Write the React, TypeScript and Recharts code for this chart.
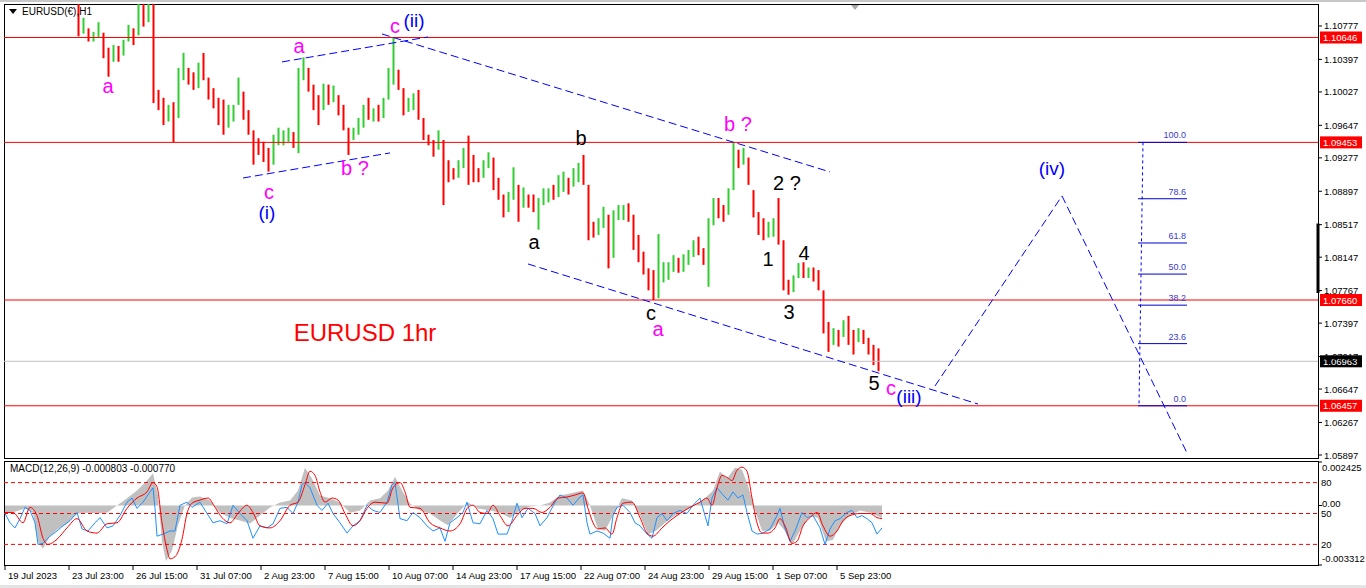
import React from "react";
import {
  Area,
  Bar,
  ComposedChart,
  Line,
  ReferenceDot,
  ReferenceLine,
  XAxis,
  YAxis,
} from "recharts";

const FONT = "'Liberation Sans', Arial, sans-serif";

// hourly bars, read 5 at a time; t = bar index from the left edge of the chart
const candleStart = 74;
const candleStep = 5;
const firstOpen = 1.108;
const candleHigh = [
  1.1107, 1.1087, 1.1075, 1.1071, 1.1082, 1.107, 1.1053, 1.1056, 1.1055, 1.1062,
  1.1079, 1.1075, 1.1104, 1.1105, 1.1107, 1.1105, 1.1005, 1.0996, 1.0988, 1.0991,
  1.103, 1.1047, 1.103, 1.1025, 1.1036, 1.1047, 1.1019, 1.1007, 1.0996, 1.0994,
  1.0988, 1.0988, 1.1019, 1.1003, 1.0982, 1.0959, 1.095, 1.0946, 1.0939, 1.0954,
  1.0962, 1.0959, 1.0962, 1.0957, 1.103, 1.1042, 1.103, 1.1011, 1.0999, 1.1012,
  1.1011, 1.101, 1.0999, 1.0988, 1.0962, 1.0962, 1.0973, 1.0988, 1.0996, 1.0984,
  1.0988, 1.0996, 1.103, 1.1064, 1.1028, 1.1007, 1.0996, 1.1001, 1.1005, 1.0973,
  1.0954, 1.0948, 1.0959, 1.0948, 1.0925, 1.0916, 1.0925, 1.0939, 1.0953, 1.0931,
  1.0916, 1.0925, 1.0934, 1.0928, 1.0905, 1.0886, 1.0889, 1.0917, 1.0897, 1.0894,
  1.0886, 1.0886, 1.0882, 1.0893, 1.0893, 1.0897, 1.0908, 1.0912, 1.0905, 1.0916,
  1.0922, 1.0931, 1.0897, 1.0855, 1.0859, 1.0872, 1.0863, 1.0868, 1.0874, 1.0874,
  1.0876, 1.0863, 1.084, 1.0821, 1.0802, 1.08, 1.0841, 1.0809, 1.0809, 1.0817,
  1.0814, 1.0818, 1.0823, 1.0834, 1.0838, 1.0825, 1.0859, 1.0882, 1.0882, 1.0874,
  1.0893, 1.0945, 1.0937, 1.0939, 1.0928, 1.0891, 1.0866, 1.0859, 1.0855, 1.0859,
  1.0882, 1.0834, 1.0789, 1.0794, 1.0808, 1.0809, 1.0803, 1.0803, 1.08, 1.0777,
  1.0741, 1.0734, 1.0732, 1.0743, 1.0748, 1.0732, 1.0734, 1.0732, 1.0723, 1.0715,
  1.0711,
];
const candleLow = [
  1.1066, 1.1069, 1.106, 1.106, 1.1064, 1.1041, 1.102, 1.1037, 1.1037, 1.1044,
  1.106, 1.1056, 1.1067, 1.1077, 1.1082, 1.099, 1.0982, 1.0965, 1.0969, 1.0945,
  1.0973, 1.1016, 1.1011, 1.1005, 1.1007, 1.1016, 1.0994, 1.0984, 1.0965, 1.0954,
  1.0962, 1.0969, 1.0988, 1.0971, 1.0954, 1.092, 1.0931, 1.0923, 1.0912, 1.092,
  1.0942, 1.0942, 1.0946, 1.0939, 1.0933, 1.1016, 1.1003, 1.0982, 1.0965, 1.0982,
  1.0988, 1.0991, 1.0976, 1.0959, 1.0931, 1.0948, 1.0954, 1.0962, 1.0971, 1.0969,
  1.0969, 1.0973, 1.0994, 1.1011, 1.1005, 1.0976, 1.098, 1.0982, 1.0971, 1.0948,
  1.0942, 1.0929, 1.0937, 1.0874, 1.09, 1.0903, 1.0905, 1.0916, 1.0897, 1.09,
  1.09, 1.0905, 1.0916, 1.0891, 1.088, 1.086, 1.0866, 1.088, 1.0855, 1.0871,
  1.0871, 1.0866, 1.0846, 1.0874, 1.0877, 1.088, 1.0883, 1.0889, 1.0886, 1.0895,
  1.09, 1.0897, 1.0834, 1.0837, 1.084, 1.0848, 1.0802, 1.0814, 1.0857, 1.0857,
  1.0855, 1.0823, 1.0809, 1.0795, 1.0777, 1.0766, 1.0768, 1.0786, 1.0789, 1.0798,
  1.0797, 1.0798, 1.0806, 1.0815, 1.0817, 1.0806, 1.0781, 1.0851, 1.0859, 1.0855,
  1.0863, 1.0891, 1.0916, 1.092, 1.0897, 1.086, 1.084, 1.0834, 1.0837, 1.0838,
  1.0829, 1.0777, 1.0772, 1.0775, 1.0791, 1.0791, 1.0791, 1.0787, 1.0777, 1.0728,
  1.0707, 1.0715, 1.0713, 1.0724, 1.0715, 1.0704, 1.0718, 1.0716, 1.0704, 1.0692,
  1.0685,
];
const candleClose = [
  1.1073, 1.1075, 1.1062, 1.1064, 1.1073, 1.1045, 1.1041, 1.1053, 1.1045, 1.106,
  1.1073, 1.1062, 1.1096, 1.109, 1.1098, 1.0999, 1.0994, 1.0976, 1.0982, 1.0976,
  1.1022, 1.1028, 1.1016, 1.1011, 1.103, 1.1022, 1.0999, 1.0994, 1.0976, 1.0971,
  1.0973, 1.0982, 1.1005, 1.0982, 1.0962, 1.0942, 1.0939, 1.0937, 1.0925, 1.0948,
  1.095, 1.0954, 1.0957, 1.0942, 1.1022, 1.1033, 1.1011, 1.0994, 1.0976, 1.1005,
  1.0999, 1.1003, 1.0984, 1.0965, 1.095, 1.0956, 1.0968, 1.098, 1.0976, 1.098,
  1.0976, 1.0988, 1.1022, 1.1028, 1.1014, 1.0984, 1.0991, 1.0994, 1.0976, 1.0954,
  1.0948, 1.0937, 1.0948, 1.0914, 1.0912, 1.0908, 1.092, 1.0934, 1.0925, 1.0908,
  1.0907, 1.092, 1.0928, 1.0903, 1.0886, 1.0868, 1.0882, 1.0903, 1.0874, 1.0882,
  1.088, 1.0874, 1.0874, 1.0886, 1.0889, 1.0886, 1.0897, 1.0905, 1.0897, 1.0908,
  1.0916, 1.0903, 1.0851, 1.0848, 1.0851, 1.0863, 1.0812, 1.0863, 1.0866, 1.0868,
  1.0866, 1.0834, 1.0817, 1.08, 1.0786, 1.0783, 1.0798, 1.0798, 1.0802, 1.0809,
  1.0806, 1.0812, 1.0817, 1.0829, 1.0823, 1.0809, 1.0855, 1.0874, 1.0868, 1.0866,
  1.0886, 1.0925, 1.0923, 1.0931, 1.0903, 1.0868, 1.0851, 1.0843, 1.0846, 1.0848,
  1.084, 1.0783, 1.0777, 1.0789, 1.0803, 1.0798, 1.0798, 1.0795, 1.0783, 1.0737,
  1.0726, 1.0726, 1.0721, 1.0738, 1.0732, 1.0721, 1.0726, 1.0722, 1.0709, 1.0698,
  1.0696,
];

const priceTicks = [
  1.10777, 1.10397, 1.10027, 1.09647, 1.09277, 1.08897, 1.08517, 1.08147,
  1.07767, 1.07397, 1.07017, 1.06647, 1.06267, 1.05897,
];
const levelPrices = [1.10646, 1.09453, 1.0766, 1.06457];
const lastPrice = 1.06963;

const timeTicks = [0, 64, 128, 192, 256, 320, 384, 448, 512, 576, 640, 704, 768, 832];
const timeLabels = [
  "19 Jul 2023", "23 Jul 23:00", "26 Jul 15:00", "31 Jul 07:00", "2 Aug 23:00",
  "7 Aug 15:00", "10 Aug 07:00", "14 Aug 23:00", "17 Aug 15:00", "22 Aug 07:00",
  "24 Aug 23:00", "29 Aug 15:00", "1 Sep 07:00", "5 Sep 23:00",
];

// wave labels: [text, t, price]
const magentaNotes: [string, number, number][] = [
  ["a", 103, 1.10095], ["c", 390, 1.10777], ["a", 294, 1.1055], ["c", 264, 1.08889],
  ["b ?", 350, 1.09162], ["a", 653, 1.07331], ["b ?", 733, 1.09662], ["c", 886, 1.0666],
];
const blackNotes: [string, number, number][] = [
  ["b", 576, 1.09503], ["a", 529, 1.0832], ["c", 646, 1.07513], ["2 ?", 782, 1.08991],
  ["1", 763, 1.08127], ["4", 799, 1.08195], ["3", 784, 1.07524], ["5", 869, 1.06717],
];
const blueNotes: [string, number, number][] = [
  ["(ii)", 409, 1.10834], ["(i)", 262, 1.0865], ["(iii)", 904, 1.06557], ["(iv)", 1047, 1.09151],
];

// dashed trend lines: [t1, p1, t2, p2]
const trendLines: [number, number, number, number][] = [
  [377, 1.10686, 825, 1.09117],
  [277, 1.10368, 423, 1.10652],
  [238, 1.09048, 385, 1.09333],
  [523, 1.0807, 973, 1.06477],
  [930, 1.06682, 1057, 1.08844],
  [1057, 1.08844, 1182, 1.0592],
];

const fibHigh = 1.09453;
const fibLow = 1.06457;
const fibLevels = [100, 78.6, 61.8, 50, 38.2, 23.6, 0];

// MACD histogram (t, value)
const histT = [
  0, 10, 20, 28, 33, 38, 45, 53, 62, 72, 82, 92, 102, 112, 122, 132, 142, 148, 153, 157,
  161, 167, 173, 180, 187, 195, 205, 215, 225, 235, 245, 255, 265, 275, 285, 293, 300, 307,
  315, 325, 335, 345, 355, 365, 375, 383, 390, 397, 405, 415, 425, 435, 443, 453, 463, 473,
  485, 495, 505, 515, 525, 535, 545, 555, 565, 578, 585, 593, 600, 608, 617, 627, 635, 643,
  651, 660, 670, 680, 690, 700, 708, 715, 722, 730, 737, 743, 750, 757, 765, 773, 780, 787,
  795, 805, 813, 821, 828, 835, 845, 855, 865, 877,
];
const histVal = [
  -0.00039, -0.00034, -0.00017, -0.0004, -0.002, -0.0024, -0.0017, -0.0013, -0.001, -0.00045,
  -0.0004, -0.00045, -0.0004, 0, 0.0004, 0.00084, 0.0014, 0.0018, 0.00056, -0.002,
  -0.0031, -0.0025, -0.0011, 0, 0.00045, 0.0005, 0.00028, -0.0004, -0.0007, -0.00084,
  -0.001, -0.00056, -0.00011, 0.00017, 0.00028, 0.00084, 0.0021, 0.0015,
  0.00056, 0.0004, 0.00017, -0.0004, -0.00028, 0.00028, 0.0004, 0.00084, 0.0016, 0.00084,
  0.00011, -0.00028, -0.00045, -0.00084, -0.0011, -0.0004, 0.00017, -0.00017,
  -0.00028, -0.0004, -0.0007, -0.00028, -0.00006, 0, 0.00017, 0.00056, 0.00067, 0.00084,
  0, -0.0013, -0.0014, -0.00056, 0.0004, 0.00028, -0.00056, -0.0016,
  -0.0014, -0.00096, -0.00056, -0.00028, 0, 0.0004, 0.00084, 0.0019, 0.0015, 0.0021,
  0.002, 0.0011, -0.00028, -0.0014, -0.0014, -0.00096, -0.0014, -0.0022,
  -0.0014, -0.00056, -0.0007, -0.002, -0.0019, -0.0011, -0.00056, -0.00028, -0.0004, -0.0007,
];

// fast (blue) and slow (red) oscillator lines on the 0-100 scale
const blueT = [
  0, 5, 10, 15, 20, 25, 30, 33, 38, 45, 52, 58, 65, 72, 77, 83, 90, 95, 102, 108, 115, 122,
  127, 132, 138, 145, 148, 150, 152, 158, 165, 170, 175, 182, 187, 195, 202, 208, 215, 222,
  228, 235, 242, 248, 255, 262, 268, 275, 282, 288, 293, 297, 300, 305, 312, 317, 323, 328,
  335, 342, 348, 355, 362, 368, 375, 382, 387, 390, 395, 402, 408, 415, 422, 428, 435, 440,
  445, 452, 458, 462, 468, 475, 482, 488, 493, 502, 507, 512, 517, 523, 530, 535, 542, 550,
  555, 562, 568, 575, 578, 582, 585, 592, 598, 605, 608, 612, 618, 625, 630, 635, 642, 647,
  652, 657, 662, 668, 675, 682, 688, 695, 700, 703, 707, 712, 718, 723, 728, 733, 738, 742,
  747, 752, 758, 765, 772, 775, 780, 785, 790, 797, 802, 808, 815, 820, 825, 830, 835, 842,
  847, 852, 857, 862, 867, 872, 877,
];
const blueVal = [
  50, 41, 36, 45, 56, 53, 41, 20, 21, 28, 33, 38, 43, 51, 35, 33, 41, 46, 36, 38, 48, 61,
  65, 55, 61, 71, 75, 55, 28, 30, 33, 33, 58, 61, 56, 61, 50, 41, 43, 40,
  58, 50, 43, 26, 38, 36, 40, 55, 56, 50, 61, 78, 80, 75, 58, 53, 60, 50,
  41, 31, 38, 43, 58, 53, 51, 61, 78, 80, 45, 43, 51, 46, 38, 33, 36, 23,
  41, 46, 51, 61, 41, 40, 53, 45, 30, 30, 43, 60, 46, 55, 50, 38, 46, 61,
  68, 65, 58, 66, 68, 41, 30, 33, 31, 26, 48, 56, 58, 51, 41, 38, 30, 26,
  46, 50, 43, 50, 53, 50, 58, 65, 48, 38, 65, 75, 68, 63, 71, 65, 68, 51,
  33, 30, 31, 35, 48, 55, 35, 23, 33, 51, 46, 48, 36, 20, 35, 43, 45, 51,
  53, 46, 48, 45, 41, 30, 36,
];
const redT = [
  0, 8, 18, 25, 32, 38, 43, 52, 62, 72, 82, 92, 102, 112, 122, 132, 142, 148, 152, 157, 162,
  165, 170, 177, 182, 187, 195, 203, 210, 217, 225, 233, 242, 248, 255, 265, 275, 285, 293,
  300, 305, 310, 315, 320, 327, 333, 340, 348, 355, 362, 370, 382, 388, 395, 400, 405, 415,
  425, 435, 445, 455, 463, 468, 475, 482, 488, 495, 503, 512, 520, 528, 537, 545, 553, 562,
  570, 578, 583, 588, 593, 600, 607, 612, 618, 627, 635, 642, 648, 657, 665, 675, 685, 695,
  702, 707, 712, 717, 722, 727, 732, 737, 742, 747, 752, 757, 763, 770, 775, 780, 787, 792,
  798, 805, 812, 818, 825, 832, 838, 845, 855, 865, 872, 877,
];
const redVal = [
  51, 51, 41, 56, 48, 26, 20, 25, 36, 45, 33, 31, 40, 41, 55, 65, 71, 80, 76, 41, 15,
  6, 8, 25, 50, 60, 63, 65, 56, 46, 41, 50, 58, 51, 38, 36, 43, 58, 61,
  78, 91, 87, 71, 61, 65, 63, 50, 38, 43, 55, 61, 60, 75, 80, 71, 56, 55,
  41, 36, 33, 40, 56, 58, 51, 50, 58, 48, 38, 48, 55, 55, 51, 56, 65, 66,
  68, 70, 55, 41, 35, 36, 30, 46, 60, 61, 46, 31, 28, 36, 43, 50, 56, 61,
  65, 58, 75, 87, 85, 82, 92, 95, 91, 65, 41, 31, 31, 36, 45, 38, 21, 23,
  38, 46, 51, 38, 28, 33, 43, 48, 50, 50, 46, 45,
];
const oscLevels = [80, 50, 20];
const macdTitle = "MACD(12,26,9) -0.000803 -0.000770";
const macdMax = 0.002425;
const macdMin = -0.003312;

const candles = candleClose.map((close, i) => ({
  t: candleStart + i * candleStep,
  open: i === 0 ? firstOpen : candleClose[i - 1],
  high: candleHigh[i],
  low: candleLow[i],
  close,
}));
const histData = histT.map((t, i) => ({ t, v: histVal[i] }));
const blueData = blueT.map((t, i) => ({ t, v: blueVal[i] }));
const redData = redT.map((t, i) => ({ t, v: redVal[i] }));

const X_DOMAIN: [number, number] = [-1, 1313];
const Y_DOMAIN: [number, number] = [1.05863, 1.11027];

function Candle(props: any) {
  const { x, y, width, height, payload } = props;
  const up = payload.close >= payload.open;
  return (
    <rect
      x={x}
      y={Math.min(y, y + height)}
      width={width}
      height={Math.max(1, Math.abs(height))}
      fill={up ? "#32cd32" : "#ff0000"}
    />
  );
}

function PriceTick(props: any) {
  const { x, y, payload } = props;
  return (
    <text x={x} y={y} dy={3.5} fontSize={9.5} fontFamily={FONT} fill="#000">
      {payload.value.toFixed(5)}
    </text>
  );
}

function PriceTag(props: any) {
  const { viewBox, price, bg } = props;
  const x = viewBox.x + viewBox.width + 2;
  const y = viewBox.y;
  return (
    <g>
      <rect x={x} y={y - 6} width={42} height={12} fill={bg} />
      <text x={x + 3} y={y} dy={3.5} fontSize={9.5} fontFamily={FONT} fill="#fff">
        {price.toFixed(5)}
      </text>
    </g>
  );
}

function TimeTick(props: any) {
  const { x, y, payload } = props;
  return (
    <text x={x + 3} y={y} dy={7} fontSize={9.5} fontFamily={FONT} fill="#000">
      {timeLabels[timeTicks.indexOf(payload.value)]}
    </text>
  );
}

function MacdTick(props: any) {
  const { x, y, payload } = props;
  const v = payload.value;
  const label = v === 0 ? "0.00" : v.toFixed(6);
  const dy = v > 0 ? 8.5 : v < 0 ? -3.5 : 1.5;
  return (
    <text x={x - 2} y={y} dy={dy} fontSize={9.5} fontFamily={FONT} fill="#000">
      {label}
    </text>
  );
}

const noteShape = (text: string, color: string, size: number) => (s: any) => (
  <text
    x={s.cx}
    y={s.cy}
    textAnchor="middle"
    dominantBaseline="central"
    fontSize={size}
    fontFamily={FONT}
    fill={color}
  >
    {text}
  </text>
);

export default function App() {
  const fibPrice = (lvl: number) => fibLow + (lvl / 100) * (fibHigh - fibLow);
  return (
    <div style={{ position: "absolute", left: 0, top: 0, width: 1366, height: 588, background: "#fff", overflow: "hidden" }}>
      <div style={{ position: "absolute", left: 0, top: 0, width: 1366, height: 2, background: "#c8c8c8" }} />
      <div style={{ position: "absolute", left: 0, top: 585, width: 1366, height: 3, background: "#e4e4e4" }} />
      <div style={{ position: "absolute", left: 4, top: 4, width: 1315, height: 455, border: "1px solid #000", boxSizing: "border-box" }} />
      <div style={{ position: "absolute", left: 4, top: 461, width: 1315, height: 105, border: "1px solid #000", boxSizing: "border-box" }} />

      <div style={{ position: "absolute", left: 0, top: 0 }}>
        <ComposedChart width={1366} height={460} data={candles} margin={{ top: 4, right: 0, bottom: 2, left: 4 }}>
          <XAxis dataKey="t" type="number" domain={X_DOMAIN} hide allowDataOverflow />
          <YAxis
            orientation="right"
            width={48}
            domain={Y_DOMAIN}
            ticks={priceTicks}
            interval={0}
            allowDataOverflow
            axisLine={false}
            tickSize={4}
            tickLine={{ stroke: "#000" }}
            tick={<PriceTick />}
          />
          {levelPrices.map((p) => (
            <ReferenceLine key={p} y={p} stroke="#ff0000" strokeWidth={1} label={<PriceTag price={p} bg="#ff0000" />} />
          ))}
          <ReferenceLine y={lastPrice} stroke="#c0c0c0" label={<PriceTag price={lastPrice} bg="#000" />} />
          <Bar dataKey={(d: any) => [d.low, d.high]} barSize={2} shape={<Candle />} isAnimationActive={false} />

          {trendLines.map(([t1, p1, t2, p2], i) => (
            <ReferenceLine
              key={"tl" + i}
              segment={[{ x: t1, y: p1 }, { x: t2, y: p2 }]}
              stroke="#0000ff"
              strokeDasharray="8 4"
              ifOverflow="visible"
            />
          ))}

          <ReferenceLine
            segment={[{ x: 1138, y: fibHigh }, { x: 1134, y: fibLow }]}
            stroke="#0000ff"
            strokeDasharray="3 3"
            ifOverflow="visible"
          />
          {fibLevels.map((lvl) => (
            <ReferenceLine
              key={"fl" + lvl}
              segment={[{ x: 1133, y: fibPrice(lvl) }, { x: 1182, y: fibPrice(lvl) }]}
              stroke="#0000cc"
              ifOverflow="visible"
            />
          ))}
          {fibLevels.map((lvl) => (
            <ReferenceDot
              key={"ft" + lvl}
              x={1181}
              y={fibPrice(lvl)}
              r={0}
              ifOverflow="visible"
              shape={(s: any) => (
                <text x={s.cx} y={s.cy - 4} textAnchor="end" fontSize={9} fontFamily={FONT} fill="#3a3ad0">
                  {lvl.toFixed(1)}
                </text>
              )}
            />
          ))}

          <ReferenceLine
            segment={[{ x: 1313, y: 1.0853 }, { x: 1313, y: 1.0774 }]}
            stroke="#000"
            strokeWidth={3}
            ifOverflow="visible"
          />
          <ReferenceDot
            x={850}
            y={Y_DOMAIN[1]}
            r={0}
            ifOverflow="visible"
            shape={(s: any) => (
              <polygon points={`${s.cx - 4},${s.cy + 1} ${s.cx + 4},${s.cy + 1} ${s.cx},${s.cy + 6}`} fill="#a8a8a8" />
            )}
          />

          {magentaNotes.map(([text, t, p], i) => (
            <ReferenceDot key={"m" + i} x={t} y={p} r={0} ifOverflow="visible" shape={noteShape(text, "#ff00ff", 20)} />
          ))}
          {blackNotes.map(([text, t, p], i) => (
            <ReferenceDot key={"k" + i} x={t} y={p} r={0} ifOverflow="visible" shape={noteShape(text, "#000", 20)} />
          ))}
          {blueNotes.map(([text, t, p], i) => (
            <ReferenceDot key={"b" + i} x={t} y={p} r={0} ifOverflow="visible" shape={noteShape(text, "#0000ff", 19)} />
          ))}
          <ReferenceDot x={360} y={1.07285} r={0} ifOverflow="visible" shape={noteShape("EURUSD 1hr", "#ff0000", 24)} />
        </ComposedChart>
      </div>

      <div style={{ position: "absolute", left: 0, top: 461 }}>
        <ComposedChart width={1366} height={127} margin={{ top: 1, right: 0, bottom: 1, left: 4 }}>
          <XAxis
            dataKey="t"
            type="number"
            domain={X_DOMAIN}
            ticks={timeTicks}
            interval={0}
            allowDataOverflow
            axisLine={false}
            tickSize={5}
            tickLine={{ stroke: "#000" }}
            tick={<TimeTick />}
            height={22}
          />
          <YAxis
            yAxisId="macd"
            orientation="right"
            width={48}
            domain={[macdMin, macdMax]}
            ticks={[macdMax, 0, macdMin]}
            interval={0}
            allowDataOverflow
            axisLine={false}
            tickSize={4}
            tickLine={{ stroke: "#000" }}
            tick={<MacdTick />}
          />
          <YAxis yAxisId="pct" hide domain={[0, 100]} allowDataOverflow />
          <Area
            yAxisId="macd"
            data={histData}
            dataKey="v"
            type="linear"
            stroke="none"
            fill="#c0c0c0"
            fillOpacity={1}
            baseValue={0}
            isAnimationActive={false}
          />
          {oscLevels.map((lv) => (
            <Line
              key={"lv" + lv}
              yAxisId="pct"
              data={[{ t: X_DOMAIN[0], v: lv }, { t: X_DOMAIN[1], v: lv }]}
              dataKey="v"
              stroke="#ff0000"
              strokeDasharray="4 3"
              dot={false}
              isAnimationActive={false}
            />
          ))}
          {oscLevels.map((lv) => (
            <ReferenceDot
              key={"ll" + lv}
              yAxisId="pct"
              x={X_DOMAIN[1]}
              y={lv}
              r={0}
              ifOverflow="visible"
              shape={(s: any) => (
                <text x={s.cx + 3} y={s.cy} dy={3.5} fontSize={9.5} fontFamily={FONT} fill="#000">
                  {lv}
                </text>
              )}
            />
          ))}
          <Line yAxisId="pct" data={blueData} dataKey="v" type="linear" stroke="#1e90ff" strokeWidth={1} dot={false} isAnimationActive={false} />
          <Line yAxisId="pct" data={redData} dataKey="v" type="monotone" stroke="#ff0000" strokeWidth={1} dot={false} isAnimationActive={false} />
        </ComposedChart>
      </div>

      <div style={{ position: "absolute", left: 9, top: 6, font: `10px ${FONT}`, color: "#000", display: "flex", alignItems: "center", gap: 5 }}>
        <svg width={8} height={5}>
          <polygon points="0,0 8,0 4,5" fill="#000" />
        </svg>
        <span>EURUSD(€),H1</span>
      </div>
      <div style={{ position: "absolute", left: 10, top: 463, font: `10px ${FONT}`, color: "#000" }}>{macdTitle}</div>
    </div>
  );
}
